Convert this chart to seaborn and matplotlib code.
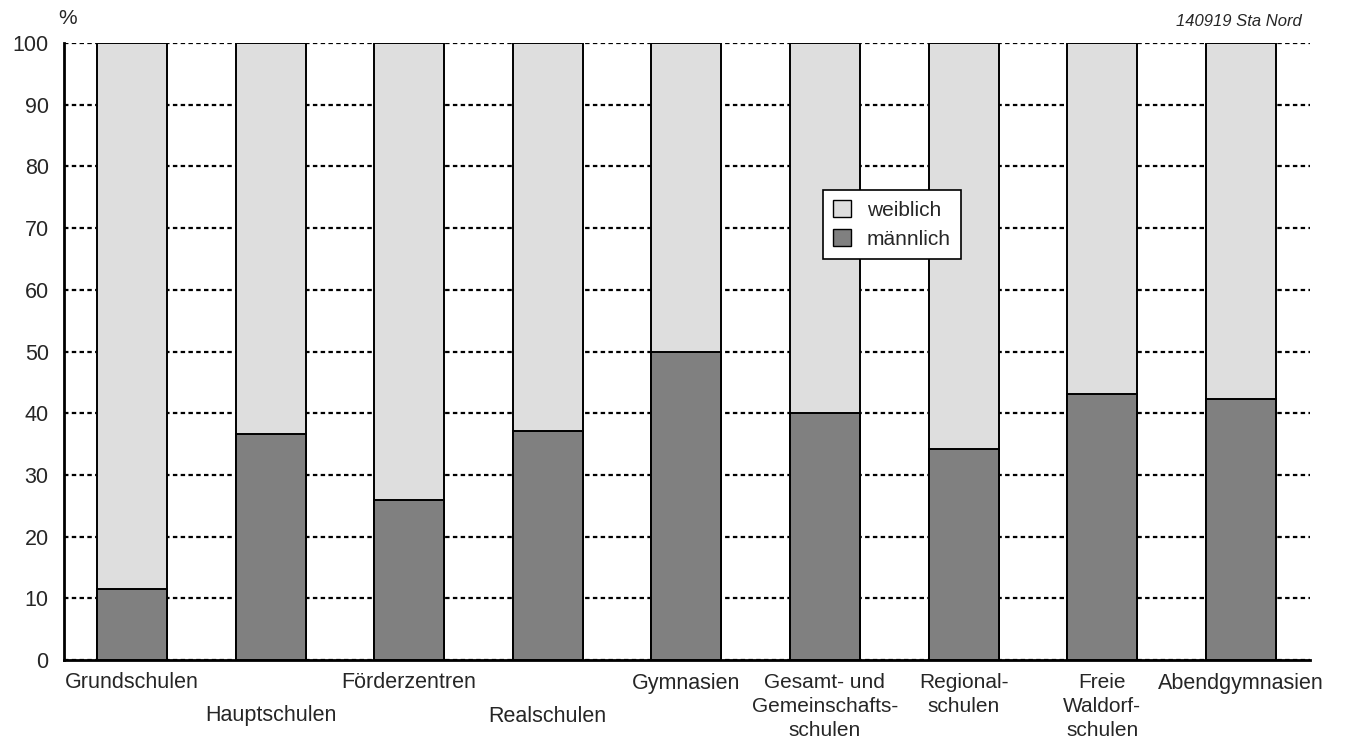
import numpy as np
import pandas as pd
import matplotlib
matplotlib.use("Agg")
import matplotlib.pyplot as plt
import seaborn as sns
from matplotlib.patches import Patch

sns.set_style("white")
plt.rcParams['font.family'] = ['Liberation Sans', 'DejaVu Sans']

# Schularten und Anteile (%)
schularten = ["Grundschulen", "Hauptschulen", "Förderzentren", "Realschulen",
              "Gymnasien", "Gesamt- und Gemeinschaftsschulen", "Regionalschulen",
              "Freie Waldorfschulen", "Abendgymnasien"]
tick_labels = ["Grundschulen", "\nHauptschulen", "Förderzentren", "\nRealschulen",
               "Gymnasien", "Gesamt- und\nGemeinschafts-\nschulen", "Regional-\nschulen",
               "Freie\nWaldorf-\nschulen", "Abendgymnasien"]
maennlich = [11.5, 36.6, 25.9, 37.1, 49.9, 40.0, 34.2, 43.1, 42.3]
weiblich = [88.5, 63.4, 74.1, 62.9, 50.1, 60.0, 65.8, 56.9, 57.7]

df = pd.DataFrame({"schulart": schularten, "m": maennlich, "w": weiblich})
df["gesamt"] = df["m"] + df["w"]

col_w = "#dedede"
col_m = "#808080"

fig = plt.figure(figsize=(13.45, 7.41), dpi=100)
ax = fig.add_axes([64 / 1345, 1 - 660 / 741, (1310 - 64) / 1345, (660 - 43) / 741])

sns.barplot(data=df, x="schulart", y="gesamt", color=col_w, width=0.505,
            edgecolor="black", linewidth=1.4, saturation=1, ax=ax, zorder=3)
sns.barplot(data=df, x="schulart", y="m", color=col_m, width=0.505,
            edgecolor="black", linewidth=1.4, saturation=1, ax=ax, zorder=3)

ax.set_ylim(0, 100)
ax.set_xlim(-0.49, 8.5)
ax.set_yticks(np.arange(0, 101, 10))
ax.set_xticks(range(len(schularten)))
ax.set_xticklabels(tick_labels, fontsize=15.5, linespacing=1.15)
for lab in ax.get_xticklabels():
    txt = lab.get_text()
    if txt.startswith("\n"):
        lab.set_linespacing(1.75)
    elif "\n" in txt:
        lab.set_fontsize(15)
        lab.set_linespacing(1.35)
ax.set_xlabel("")
ax.set_ylabel("")
ax.tick_params(axis="y", labelsize=15.5, length=8, width=2, direction="out",
               color="black", pad=3)
ax.tick_params(axis="x", length=0, pad=9)

ax.yaxis.grid(True, linestyle=(0, (2.0, 1.5)), color="black", linewidth=1.6, zorder=0)
ax.xaxis.grid(False)
ax.set_axisbelow(True)

for s in ["top", "right"]:
    ax.spines[s].set_visible(False)
ax.spines["left"].set_linewidth(2)
ax.spines["bottom"].set_linewidth(2)
ax.spines["left"].set_color("black")
ax.spines["bottom"].set_color("black")

handles = [Patch(facecolor=col_w, edgecolor="black", linewidth=1, label="weiblich"),
           Patch(facecolor=col_m, edgecolor="black", linewidth=1, label="männlich")]
leg = ax.legend(handles=handles, loc="upper left", bbox_to_anchor=(0.609, 0.762),
                fontsize=15, frameon=True, fancybox=False, shadow=False,
                handlelength=0.85, handleheight=0.85, handletextpad=0.75,
                borderpad=0.5, labelspacing=0.45, borderaxespad=0)
leg.get_frame().set_edgecolor("black")
leg.get_frame().set_linewidth(1.2)
leg.get_frame().set_alpha(1)
leg.set_zorder(5)

fig.text(68 / 1345, 1 - 18 / 741, "%", fontsize=15, ha="center", va="center")
fig.text(1302 / 1345, 1 - 22 / 741, "140919 Sta Nord", fontsize=12,
         style="italic", ha="right", va="center")

fig.savefig("out.png", dpi=100)
